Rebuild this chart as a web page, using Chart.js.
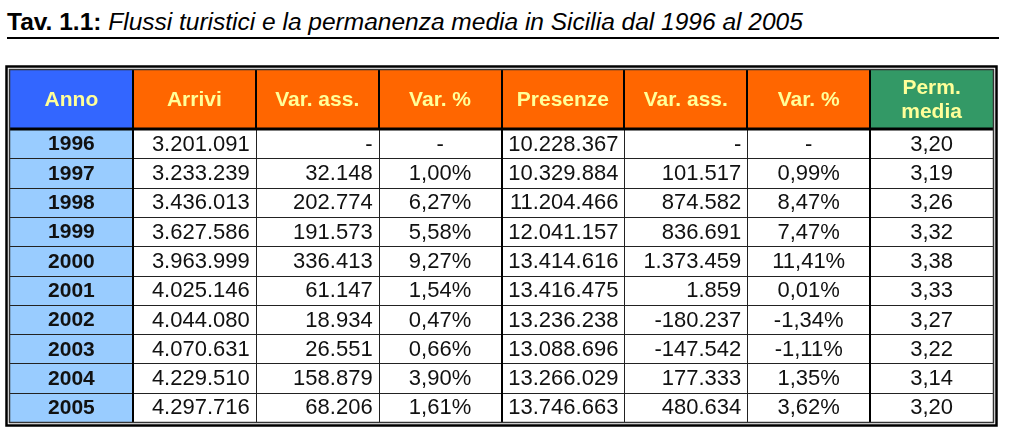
<!DOCTYPE html>
<html lang="it">
<head>
<meta charset="UTF-8">
<title>Flussi turistici Sicilia 1996-2005</title>
<style>
  html, body { margin: 0; padding: 0; background: #fff; }
  body { width: 1009px; height: 437px; position: relative; overflow: hidden; }
  .titolo {
    position: absolute; left: 7px; top: 8px; width: 992px;
    font-family: "Liberation Sans", Arial, sans-serif; font-size: 24.5px; color: #000;
    border-bottom: 2px solid #000; line-height: 27px; padding-bottom: 2px;
    white-space: nowrap;
  }
  .titolo b { font-weight: bold; }
  .titolo i { font-style: italic; }
  #tabella { position: absolute; left: 0; top: 0; }
</style>
</head>
<body>
<div class="titolo"><b>Tav. 1.1:</b> <i>Flussi turistici e la permanenza media in Sicilia dal 1996 al 2005</i></div>
<canvas id="tabella" width="1009" height="437"></canvas>

<script src="https://cdn.jsdelivr.net/npm/chart.js@4.4.0/dist/chart.umd.min.js"></script>
<script>
// dati della tabella
const anni = ['1996', '1997', '1998', '1999', '2000', '2001', '2002', '2003', '2004', '2005'];
const intestazioni = ['Anno', 'Arrivi', 'Var. ass.', 'Var. %', 'Presenze', 'Var. ass.', 'Var. %', 'Perm.|media'];
const arrivi = [3201091, 3233239, 3436013, 3627586, 3963999, 4025146, 4044080, 4070631, 4229510, 4297716];
const arriviVarAss = [null, 32148, 202774, 191573, 336413, 61147, 18934, 26551, 158879, 68206];
const arriviVarPerc = [null, 1.00, 6.27, 5.58, 9.27, 1.54, 0.47, 0.66, 3.90, 1.61];
const presenze = [10228367, 10329884, 11204466, 12041157, 13414616, 13416475, 13236238, 13088696, 13266029, 13746663];
const presenzeVarAss = [null, 101517, 874582, 836691, 1373459, 1859, -180237, -147542, 177333, 480634];
const presenzeVarPerc = [null, 0.99, 8.47, 7.47, 11.41, 0.01, -1.34, -1.11, 1.35, 3.62];
const permanenzaMedia = [3.20, 3.19, 3.26, 3.32, 3.38, 3.33, 3.27, 3.22, 3.14, 3.20];

// formattazione all'italiana
function fmtIntero(n) {
  if (n === null) return '-';
  const s = String(Math.abs(n)).replace(/\B(?=(\d{3})+(?!\d))/g, '.');
  return (n < 0 ? '-' : '') + s;
}
function fmtPerc(v) {
  if (v === null) return '-';
  return v.toFixed(2).replace('.', ',') + '%';
}
function fmtDec(v) {
  return v.toFixed(2).replace('.', ',');
}

const colonne = [
  { valori: anni, fmt: v => v, align: 'center', bold: true },
  { valori: arrivi, fmt: fmtIntero, align: 'right' },
  { valori: arriviVarAss, fmt: fmtIntero, align: 'right' },
  { valori: arriviVarPerc, fmt: fmtPerc, align: 'center' },
  { valori: presenze, fmt: fmtIntero, align: 'right' },
  { valori: presenzeVarAss, fmt: fmtIntero, align: 'right' },
  { valori: presenzeVarPerc, fmt: fmtPerc, align: 'center' },
  { valori: permanenzaMedia, fmt: fmtDec, align: 'center' }
];
const coloriIntestazione = ['#3366FF', '#FF6600', '#FF6600', '#FF6600', '#FF6600', '#FF6600', '#FF6600', '#339966'];
const separatoriSpessi = [1, 4, 7];
const altezzaIntestazione = 59;
const FONT = '"Liberation Sans", Arial, sans-serif';

// disegno di intestazione, testi e bordi sulle scale del grafico
const tabellaPlugin = {
  id: 'tabella',
  beforeDatasetsDraw(chart) {
    const ctx = chart.ctx, x = chart.scales.x, area = chart.chartArea;
    const top = area.top - altezzaIntestazione;
    ctx.save();
    // celle bianche
    ctx.fillStyle = '#fff';
    ctx.fillRect(area.left, area.top, area.right - area.left, area.bottom - area.top);
    // intestazione
    intestazioni.forEach((h, c) => {
      const x0 = x.getPixelForValue(c), x1 = x.getPixelForValue(c + 1);
      ctx.fillStyle = coloriIntestazione[c];
      ctx.fillRect(x0, top, x1 - x0, altezzaIntestazione);
      ctx.fillStyle = '#FFFF99';
      ctx.font = 'bold 21px ' + FONT;
      ctx.textAlign = 'center';
      ctx.textBaseline = 'middle';
      const righe = h.split('|');
      const cx = (x0 + x1) / 2, cy = top + altezzaIntestazione / 2 + 1;
      righe.forEach((r, k) => {
        ctx.fillText(r, cx, cy + (k - (righe.length - 1) / 2) * 24);
      });
    });
    ctx.restore();
  },
  afterDatasetsDraw(chart) {
    const ctx = chart.ctx, x = chart.scales.x, y = chart.scales.y, area = chart.chartArea;
    const top = area.top - altezzaIntestazione;
    const passo = (area.bottom - area.top) / anni.length;
    ctx.save();
    // valori
    colonne.forEach((col, c) => {
      const x0 = x.getPixelForValue(c), x1 = x.getPixelForValue(c + 1);
      ctx.font = (col.bold ? 'bold 21px ' : '22px ') + FONT;
      ctx.fillStyle = '#111';
      ctx.textBaseline = 'middle';
      ctx.textAlign = col.align;
      const tx = col.align === 'right' ? x1 - 6 : (x0 + x1) / 2;
      col.valori.forEach((v, r) => {
        ctx.fillText(col.fmt(v), tx, y.getPixelForValue(r) + 1);
      });
    });
    // righe orizzontali sottili
    ctx.strokeStyle = '#222';
    ctx.lineWidth = 1;
    for (let r = 1; r < anni.length; r++) {
      const py = Math.round(y.getPixelForValue(r) - passo / 2) + 0.5;
      ctx.beginPath();
      ctx.moveTo(area.left, py);
      ctx.lineTo(area.right, py);
      ctx.stroke();
    }
    // linee verticali
    for (let c = 1; c < colonne.length; c++) {
      const px = Math.round(x.getPixelForValue(c));
      const spessa = separatoriSpessi.includes(c);
      ctx.strokeStyle = '#000';
      // intestazione: sempre spessa
      ctx.lineWidth = 2;
      ctx.beginPath();
      ctx.moveTo(px, top);
      ctx.lineTo(px, area.top);
      ctx.stroke();
      ctx.lineWidth = spessa ? 2 : 1;
      ctx.strokeStyle = spessa ? '#000' : '#222';
      const off = spessa ? 0 : 0.5;
      ctx.beginPath();
      ctx.moveTo(px + off, area.top);
      ctx.lineTo(px + off, area.bottom);
      ctx.stroke();
    }
    // bordo inferiore intestazione
    ctx.strokeStyle = '#000';
    ctx.lineWidth = 3;
    ctx.beginPath();
    ctx.moveTo(area.left, area.top);
    ctx.lineTo(area.right, area.top);
    ctx.stroke();
    // bordo doppio esterno
    ctx.lineWidth = 1.5;
    ctx.strokeStyle = '#333';
    ctx.strokeRect(area.left - 0.5, top - 0.5, area.right - area.left + 1, area.bottom - top + 1);
    ctx.lineWidth = 2.5;
    ctx.strokeStyle = '#000';
    ctx.strokeRect(area.left - 3.5, top - 3.5, area.right - area.left + 7, area.bottom - top + 7);
    ctx.restore();
  }
};

new Chart(document.getElementById('tabella'), {
  type: 'bar',
  data: {
    labels: anni,
    datasets: [{
      label: 'Anno',
      data: anni.map(() => [0, 1]),
      backgroundColor: '#99CCFF',
      borderWidth: 0,
      barPercentage: 1,
      categoryPercentage: 1
    }]
  },
  options: {
    indexAxis: 'y',
    responsive: false,
    animation: false,
    events: [],
    layout: { padding: { left: 10, right: 16, top: 129, bottom: 15 } },
    plugins: { legend: { display: false }, tooltip: { enabled: false }, title: { display: false } },
    scales: {
      x: { type: 'linear', min: 0, max: 8, display: false },
      y: { display: false }
    }
  },
  plugins: [tabellaPlugin]
});
</script>
</body>
</html>
